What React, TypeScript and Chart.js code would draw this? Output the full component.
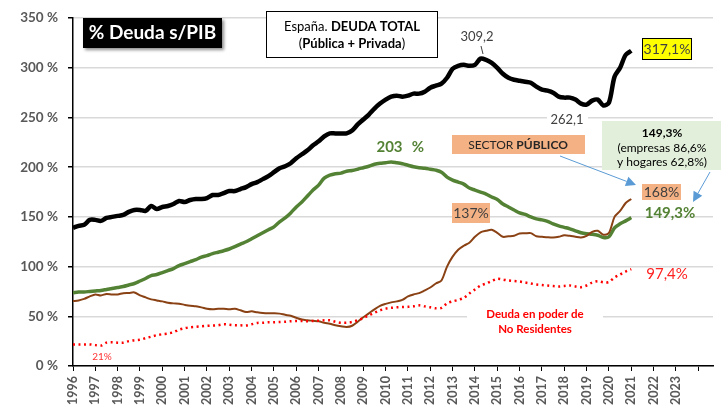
import React, { useEffect, useRef } from 'react';
import { Chart, registerables } from 'chart.js';
Chart.register(...registerables);

// Quarterly data 1996T1 .. 2021T1
const startYear = 1996;
const yearTicks = [1996, 1997, 1998, 1999, 2000, 2001, 2002, 2003, 2004, 2005, 2006, 2007, 2008, 2009, 2010, 2011, 2012, 2013, 2014, 2015, 2016, 2017, 2018, 2019, 2020, 2021, 2022, 2023];

const deudaTotal = [
  139, 141, 142, 147,
  147, 146, 149, 150,
  151, 152, 155, 157,
  157, 156, 161, 158,
  160, 161, 163, 166,
  165, 167, 168, 168,
  169, 172, 172, 174,
  176, 176, 178, 180,
  183, 185, 188, 191,
  195, 199, 201, 204,
  209, 213, 217, 222,
  226, 231, 234, 234,
  234, 234, 237, 243,
  248, 253, 259, 264,
  268, 271, 272, 271,
  272, 274, 274, 276,
  280, 282, 284, 290,
  299, 302, 303, 302,
  303, 309.2, 308, 305,
  300, 294, 290, 288,
  287, 286, 285, 281,
  278, 277, 275, 271,
  270, 270, 268, 264,
  263, 267, 268, 262.1,
  265, 291, 300, 313,
  317.1,
];

const sectorPrivado = [
  73.7, 74.5, 74.5, 75,
  75.5, 76, 77, 78,
  79, 80, 81.5, 83,
  85.5, 88, 91, 92,
  94, 96, 98, 101,
  103, 105, 107, 109.5,
  111, 113, 114.5, 116,
  117.7, 120, 122.7, 125,
  128, 131, 134, 137,
  140, 145, 149, 154,
  160, 165, 171, 177,
  182, 189, 192, 193.5,
  194, 196, 196.7, 198,
  199.5, 201, 203, 204,
  204.5, 205.3, 204.5, 203.5,
  202, 200.5, 199.5, 199,
  198, 197, 195, 190,
  187, 185, 183, 179,
  177, 175, 173, 170,
  167.5, 163, 160, 157,
  154, 152.5, 150, 148,
  147, 145.5, 143, 141,
  139.5, 138, 136, 134,
  133, 132.5, 131.5, 129.3,
  130, 139, 143, 146,
  149.3,
];

const sectorPublico = [
  65.3, 66, 67.5, 70,
  72, 71, 72.5, 72,
  72, 73.3, 73.5, 74,
  71, 69, 67, 66,
  65, 63.7, 63, 62.7,
  61.5, 60.5, 60, 59,
  57.5, 57, 57.5, 57.7,
  57, 57.5, 56, 54.3,
  55, 54, 53.3, 53,
  53, 52.7, 51.5, 50.5,
  48.5, 46.7, 46, 45.5,
  45, 43.5, 42.5, 41,
  40, 39.3, 40.5, 44.5,
  49, 53, 57, 60.5,
  62.5, 64, 65, 66.5,
  70, 72, 73.3, 76,
  79, 83, 86, 100,
  110, 117, 121, 124,
  130, 134.5, 136, 137,
  134, 130, 130.5, 131,
  133.3, 133.5, 133.7, 130.5,
  130, 129.5, 129.3, 130,
  131.5, 131, 130, 129.3,
  131, 135, 136, 132,
  134, 150, 156, 164,
  168,
];

const noResidentes = [
  21.7, 21.7, 21.7, 21.7,
  21, 20.5, 23.5, 24,
  23.5, 23.5, 25, 26,
  26.5, 28, 29.5, 31,
  32, 32.7, 34, 36.5,
  38, 39, 39.5, 40,
  40.5, 40.7, 41, 42,
  41.5, 41, 41, 40.7,
  42, 43.3, 43.5, 44,
  44, 44.3, 44.5, 45,
  45.3, 45.3, 45, 45.3,
  45.5, 46, 46, 44.5,
  43.5, 43.5, 44.3, 46,
  48.3, 51, 53.5, 56,
  57.7, 58.5, 59, 59.3,
  59.5, 60, 61, 60,
  59, 58, 58.5, 63,
  65, 66.5, 68.5, 73,
  77, 81, 83, 85.5,
  87.7, 87, 86, 85.5,
  85, 84, 83, 82,
  81.5, 81, 80.5, 80,
  80.5, 81, 80, 79.3,
  81, 84, 85.3, 84.3,
  84.5, 89, 92, 95,
  97.4,
];

const FONT = "Lato, 'Open Sans', sans-serif";

const toPoints = (vals: number[]) => vals.map((v, i) => ({ x: startYear + i / 4, y: v }));

type Part = { t: string; b?: boolean };

function drawRich(ctx: CanvasRenderingContext2D, parts: Part[], cx: number, cy: number, size: number, color: string) {
  ctx.save();
  ctx.fillStyle = color;
  ctx.textBaseline = 'middle';
  ctx.textAlign = 'left';
  let total = 0;
  const widths = parts.map((p) => {
    ctx.font = `${p.b ? 'bold ' : ''}${size}px ${FONT}`;
    const w = ctx.measureText(p.t).width;
    total += w;
    return w;
  });
  let x = cx - total / 2;
  parts.forEach((p, i) => {
    ctx.font = `${p.b ? 'bold ' : ''}${size}px ${FONT}`;
    ctx.fillText(p.t, x, cy);
    x += widths[i];
  });
  ctx.restore();
}

function box(ctx: CanvasRenderingContext2D, x: number, y: number, w: number, h: number, fill: string, stroke?: string) {
  ctx.save();
  ctx.fillStyle = fill;
  ctx.fillRect(x, y, w, h);
  if (stroke) {
    ctx.strokeStyle = stroke;
    ctx.lineWidth = 1;
    ctx.strokeRect(x + 0.5, y + 0.5, w - 1, h - 1);
  }
  ctx.restore();
}

function arrow(ctx: CanvasRenderingContext2D, x1: number, y1: number, x2: number, y2: number, color: string) {
  ctx.save();
  ctx.strokeStyle = color;
  ctx.fillStyle = color;
  ctx.lineWidth = 1;
  const ang = Math.atan2(y2 - y1, x2 - x1);
  const hl = 10;
  const bx = x2 - hl * Math.cos(ang);
  const by = y2 - hl * Math.sin(ang);
  ctx.beginPath();
  ctx.moveTo(x1, y1);
  ctx.lineTo(bx, by);
  ctx.stroke();
  ctx.beginPath();
  ctx.moveTo(x2, y2);
  ctx.lineTo(bx + 5 * Math.sin(ang), by - 5 * Math.cos(ang));
  ctx.lineTo(bx - 5 * Math.sin(ang), by + 5 * Math.cos(ang));
  ctx.closePath();
  ctx.fill();
  ctx.restore();
}

const annotations = {
  id: 'annotations',
  afterDraw(chart: Chart) {
    const ctx = chart.ctx;
    // Title box
    ctx.save();
    ctx.shadowColor = 'rgba(0,0,0,0.45)';
    ctx.shadowBlur = 3;
    ctx.shadowOffsetX = 2;
    ctx.shadowOffsetY = 2;
    box(ctx, 83, 18, 139, 30, '#000000');
    ctx.restore();
    drawRich(ctx, [{ t: '% Deuda s/PIB', b: true }], 152.5, 33, 19, '#ffffff');

    // Total box
    box(ctx, 266, 11, 172, 47, '#ffffff', '#000000');
    drawRich(ctx, [{ t: 'España. ' }, { t: 'DEUDA TOTAL', b: true }], 352, 27, 13, '#000000');
    drawRich(ctx, [{ t: '(' }, { t: 'Pública + Privada', b: true }, { t: ')' }], 352, 44, 13, '#000000');

    // 309,2
    drawRich(ctx, [{ t: '309,2' }], 477, 37, 13, '#404040');
    ctx.save();
    ctx.strokeStyle = '#404040';
    ctx.lineWidth = 1;
    ctx.beginPath();
    ctx.moveTo(481, 46);
    ctx.lineTo(483, 54);
    ctx.stroke();
    ctx.restore();

    // 317,1%
    box(ctx, 642, 38, 50, 22, '#ffff00', '#000000');
    drawRich(ctx, [{ t: '317,1%' }], 667, 49.5, 14, '#404040');

    // 262,1
    box(ctx, 547, 112, 41, 16, '#ffffff');
    drawRich(ctx, [{ t: '262,1' }], 567, 120, 13, '#404040');

    // Green note box
    box(ctx, 602, 121, 119, 49, '#e2efda');
    drawRich(ctx, [{ t: '149,3%', b: true }], 662, 133, 12, '#000000');
    drawRich(ctx, [{ t: '(empresas 86,6%' }], 662, 148, 12, '#000000');
    drawRich(ctx, [{ t: 'y hogares 62,8%)' }], 662, 162.5, 12, '#000000');

    // Sector publico box
    box(ctx, 452, 135, 133, 19, '#f4b183');
    drawRich(ctx, [{ t: 'SECTOR ' }, { t: 'PÚBLICO', b: true }], 518, 145, 12, '#262626');

    arrow(ctx, 560, 156, 636, 185, '#5b9bd5');
    arrow(ctx, 710, 172, 693, 202, '#5b9bd5');

    // 168%
    box(ctx, 642, 184, 39, 16, '#f4b183');
    drawRich(ctx, [{ t: '168%' }], 661.5, 192, 14, '#404040');

    // 149,3% green
    drawRich(ctx, [{ t: '149,3%', b: true }], 670, 213, 15, '#548235');

    // 137%
    box(ctx, 452, 203, 38, 20, '#f4b183');
    drawRich(ctx, [{ t: '137%' }], 471, 213, 14, '#404040');

    // 203 %
    drawRich(ctx, [{ t: '203', b: true }], 389.5, 147, 15, '#548235');
    drawRich(ctx, [{ t: '%', b: true }], 418, 147, 15, '#548235');

    // 97,4%
    drawRich(ctx, [{ t: '97,4%' }], 667, 274, 15, '#ff2020');

    // No residentes label
    box(ctx, 467, 305, 136, 32, '#ffffff');
    drawRich(ctx, [{ t: 'Deuda en poder de', b: true }], 535, 314, 11.5, '#ff0000');
    drawRich(ctx, [{ t: 'No Residentes', b: true }], 535, 329, 11.5, '#ff0000');

    // 21%
    drawRich(ctx, [{ t: '21%' }], 102, 357, 10, '#ff3333');
  },
};

export default function App() {
  const ref = useRef<HTMLCanvasElement | null>(null);
  useEffect(() => {
    if (!ref.current) return;
    const chart = new Chart(ref.current, {
      type: 'line',
      data: {
        datasets: [
          {
            label: 'No Residentes',
            data: toPoints(noResidentes),
            borderColor: '#ff0000',
            borderWidth: 2.5,
            borderDash: [2, 3.5],
            pointRadius: 0,
            tension: 0.3,
            fill: false,
          },
          {
            label: 'Sector Público',
            data: toPoints(sectorPublico),
            borderColor: '#8a4215',
            borderWidth: 2,
            pointRadius: 0,
            tension: 0.3,
            fill: false,
          },
          {
            label: 'Sector Privado',
            data: toPoints(sectorPrivado),
            borderColor: '#548235',
            borderWidth: 3.5,
            pointRadius: 0,
            tension: 0.3,
            fill: false,
          },
          {
            label: 'Deuda Total',
            data: toPoints(deudaTotal),
            borderColor: '#000000',
            borderWidth: 4.5,
            pointRadius: 0,
            tension: 0.3,
            fill: false,
          },
        ],
      },
      options: {
        animation: false,
        responsive: false,
        layout: { padding: { left: 0, top: 15, right: 10, bottom: 0 } },
        plugins: { legend: { display: false }, tooltip: { enabled: false } },
        scales: {
          x: {
            type: 'linear',
            min: 1996,
            max: 2024.66,
            afterBuildTicks: (scale: any) => {
              scale.ticks = [...yearTicks, 2024].map((v) => ({ value: v }));
            },
            ticks: {
              autoSkip: false,
              minRotation: 90,
              maxRotation: 90,
              padding: 5,
              color: '#595959',
              font: { family: FONT, size: 12.5, weight: 'bold' },
              callback: (v: any) => (yearTicks.includes(Number(v)) ? String(v) : ''),
            },
            grid: { drawOnChartArea: false, drawTicks: true, tickLength: 5, tickColor: '#000000', color: '#000000' },
            border: { display: true, color: '#000000', width: 1.5 },
            afterFit: (scale: any) => {
              scale.height = 41;
            },
          },
          y: {
            min: 0,
            max: 350,
            ticks: {
              stepSize: 50,
              padding: 10,
              color: '#595959',
              font: { family: FONT, size: 13.5, weight: 'bold' },
              callback: (v: any) => `${v} %`,
            },
            grid: { color: '#d9d9d9', lineWidth: 1.5, tickLength: 5, tickColor: '#000000' },
            border: { display: true, color: '#000000', width: 1.5 },
            afterFit: (scale: any) => {
              scale.width = 73;
            },
          },
        },
      },
      plugins: [annotations],
    });
    return () => chart.destroy();
  }, []);
  return (
    <div style={{ position: 'absolute', left: 0, top: 0, width: 723, height: 407, background: '#ffffff' }}>
      <canvas ref={ref} width={723} height={407} />
    </div>
  );
}
